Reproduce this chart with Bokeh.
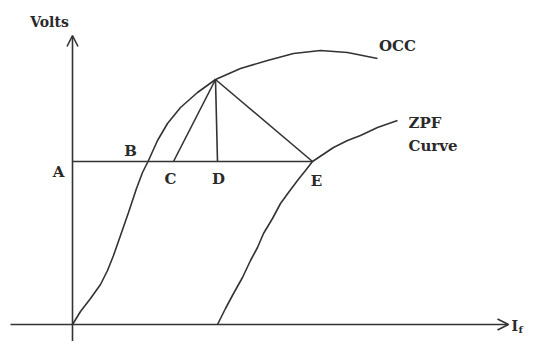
from bokeh.plotting import figure
from bokeh.models import Range1d, Arrow, OpenHead
from bokeh.embed import file_html
from bokeh.resources import INLINE
from bokeh.core.properties import value

# Open-circuit characteristic (field current, volts) - arbitrary units
occ_x = [0, 8, 18, 28, 35, 41, 48, 56, 64, 70, 76, 85, 95, 108, 125, 143, 168, 195, 221, 248, 275, 295, 305]
occ_y = [0, 13, 26, 40, 54, 69, 89, 112, 136, 152, 164, 184, 201, 217, 232, 245, 256, 264, 271, 274, 272, 268, 266]

# Zero power factor curve
zpf_x = [145, 153, 161, 170, 178, 185, 191, 200, 208, 216, 225, 233, 240, 261, 275, 288, 305, 325]
zpf_y = [0, 16, 31, 47, 64, 77, 91, 106, 121, 132, 144, 154, 163, 177, 184, 189, 197, 204]

# Potier triangle points
A = (0, 163)
C = (101, 163)
D = (145, 163)
E = (240, 163)
P = (143, 245)

# Labels
pt_labels = ["A", "B", "C", "D", "E"]
pt_lx = [-14, 58, 98, 146, 244]
pt_ly = [153, 174, 146, 146, 144]

LINE = "#333333"
TXT = "#2a2a2a"
FONT = value("DejaVu Serif")

p = figure(width=527, height=341, output_backend="svg", toolbar_location=None,
           x_range=Range1d(-72, 455), y_range=Range1d(-17, 324))
p.min_border = 0
p.outline_line_color = None
p.xaxis.visible = False
p.yaxis.visible = False
p.grid.visible = False

# axes with arrows
p.add_layout(Arrow(end=OpenHead(size=11, line_width=1.6, line_color=LINE),
                   x_start=-62, y_start=0, x_end=436, y_end=0,
                   line_color=LINE, line_width=1.6))
p.add_layout(Arrow(end=OpenHead(size=11, line_width=1.6, line_color=LINE),
                   x_start=0, y_start=-33, x_end=0, y_end=289,
                   line_color=LINE, line_width=1.6))

p.line(occ_x, occ_y, line_color=LINE, line_width=1.6)
p.line(zpf_x, zpf_y, line_color=LINE, line_width=1.6)

# horizontal line A-E
p.line([A[0], E[0]], [A[1], E[1]], line_color=LINE, line_width=1.6)
# triangle
for q in (C, D, E):
    p.line([P[0], q[0]], [P[1], q[1]], line_color=LINE, line_width=1.6)

p.text(x=pt_lx, y=pt_ly, text=pt_labels, text_font=FONT, text_font_style="bold",
       text_font_size="15px", text_color=TXT, text_align="center", text_baseline="middle")

p.text(x=[-23], y=[303], text=["Volts"], text_font=FONT, text_font_style="bold",
       text_font_size="14px", text_color=TXT, text_align="center", text_baseline="middle")
p.text(x=[325], y=[279], text=["OCC"], text_font=FONT, text_font_style="bold",
       text_font_size="15px", text_color=TXT, text_align="center", text_baseline="middle")
p.text(x=[336, 336], y=[202, 179], text=["ZPF", "Curve"], text_font=FONT, text_font_style="bold",
       text_font_size="15px", text_color=TXT, text_align="left", text_baseline="middle")
p.text(x=[439], y=[-1], text=["I"], text_font=FONT, text_font_style="bold",
       text_font_size="14px", text_color=TXT, text_align="left", text_baseline="middle")
p.text(x=[446], y=[-5], text=["f"], text_font=FONT, text_font_style="bold",
       text_font_size="10px", text_color=TXT, text_align="left", text_baseline="middle")

open("out.html", "w").write(file_html(p, INLINE))
